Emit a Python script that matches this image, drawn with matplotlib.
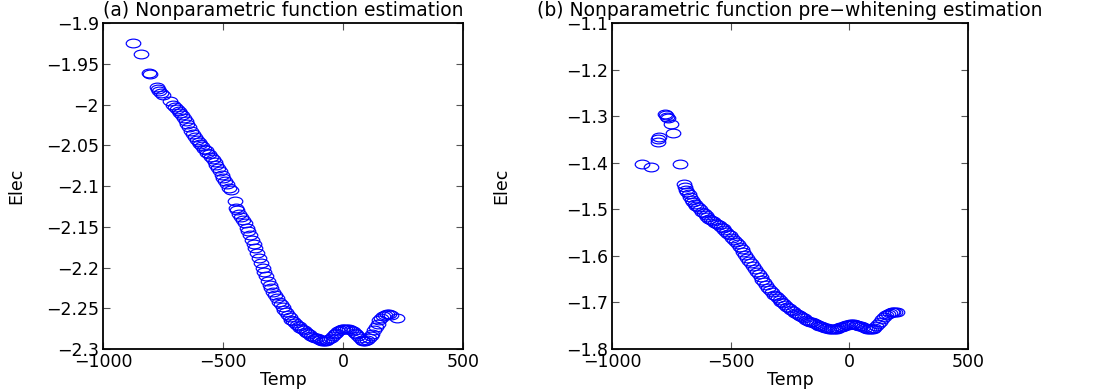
import numpy as np
import matplotlib
matplotlib.use("Agg")
import matplotlib.pyplot as plt
from matplotlib.path import Path
from matplotlib.transforms import Affine2D

# ---------------- data ----------------
temp_a = [-875, -842, -810, -806, -775, -770, -765, -760, -752, -721,
          -708, -700, -692, -685, -678, -670, -662, -655, -648, -640,
          -632, -625, -618, -610, -602, -595, -588, -580, -572, -565,
          -558, -550, -542, -535, -528, -520, -512, -505, -498, -490,
          -482, -475, -468, -452, -445, -440, -432, -425, -418, -410,
          -402, -395, -388, -380, -372, -365, -358, -350, -342, -335,
          -328, -320, -312, -305, -298, -290, -282, -275, -268, -260,
          -252, -245, -238, -230, -222, -215, -208, -200, -192, -185,
          -178, -170, -162, -155, -148, -140, -132, -125, -118, -110,
          -102, -95, -88, -80, -72, -65, -58, -50, -42, -35,
          -28, -20, -12, -5, 2, 10, 18, 25, 32, 40,
          48, 55, 62, 70, 78, 85, 92, 100, 108, 115,
          122, 130, 138, 145, 152, 160, 168, 175, 182, 190,
          198, 225]
elec_a = [-1.925, -1.938, -1.961, -1.963, -1.979, -1.981, -1.983, -1.986, -1.988, -1.996,
          -2.000, -2.003, -2.005, -2.008, -2.010, -2.013, -2.016, -2.020, -2.024, -2.028,
          -2.032, -2.036, -2.040, -2.043, -2.046, -2.049, -2.051, -2.054, -2.056, -2.059,
          -2.061, -2.064, -2.067, -2.070, -2.074, -2.078, -2.082, -2.086, -2.090, -2.094,
          -2.098, -2.102, -2.105, -2.119, -2.127, -2.130, -2.134, -2.138, -2.142, -2.146,
          -2.151, -2.155, -2.160, -2.166, -2.171, -2.176, -2.182, -2.188, -2.194, -2.200,
          -2.206, -2.211, -2.216, -2.221, -2.225, -2.230, -2.234, -2.238, -2.242, -2.245,
          -2.249, -2.252, -2.255, -2.258, -2.261, -2.264, -2.266, -2.268, -2.270, -2.272,
          -2.274, -2.276, -2.277, -2.279, -2.280, -2.282, -2.284, -2.285, -2.286, -2.287,
          -2.288, -2.289, -2.290, -2.290, -2.290, -2.289, -2.288, -2.286, -2.284, -2.282,
          -2.280, -2.278, -2.277, -2.276, -2.275, -2.275, -2.275, -2.276, -2.277, -2.278,
          -2.280, -2.282, -2.284, -2.287, -2.289, -2.290, -2.290, -2.289, -2.287, -2.284,
          -2.281, -2.277, -2.273, -2.269, -2.265, -2.262, -2.260, -2.258, -2.257, -2.257,
          -2.258, -2.262]

temp_b = [-875, -837, -808, -805, -800, -776, -772, -768, -765, -751,
          -742, -713,
          -697, -692, -687, -682, -676, -670, -664, -658, -652, -645,
          -638, -630, -622, -614, -606, -598, -590, -582, -574, -566,
          -558, -550, -542, -534, -526, -518, -510, -502, -494, -486,
          -478, -470, -462, -454, -446, -438, -430, -422, -414, -406,
          -398, -390, -382, -374, -366, -358, -350, -342, -334, -326,
          -318, -310, -302, -294, -286, -278, -270, -262, -254, -246,
          -238, -230, -222, -214, -206, -198, -190, -182, -174, -166,
          -158, -150, -142, -134, -126, -118, -110, -102, -94, -86,
          -78, -70, -62, -54, -46, -38, -30, -22, -14, -6,
          2, 10, 18, 26, 34, 42, 50, 58, 66, 74,
          82, 90, 98, 106, 114, 122, 130, 138, 146, 154,
          162, 170, 178, 186, 194, 202]
elec_b = [-1.403, -1.409, -1.356, -1.349, -1.345, -1.295, -1.298, -1.301, -1.304, -1.317,
          -1.336, -1.403,
          -1.445, -1.452, -1.458, -1.463, -1.468, -1.474, -1.479, -1.484, -1.488, -1.492,
          -1.496, -1.500, -1.505, -1.509, -1.513, -1.517, -1.520, -1.523, -1.526, -1.529,
          -1.531, -1.534, -1.537, -1.541, -1.544, -1.548, -1.552, -1.556, -1.561, -1.566,
          -1.570, -1.575, -1.580, -1.586, -1.592, -1.598, -1.604, -1.610, -1.616, -1.622,
          -1.628, -1.634, -1.640, -1.646, -1.651, -1.657, -1.662, -1.668, -1.673, -1.678,
          -1.683, -1.687, -1.691, -1.695, -1.699, -1.702, -1.706, -1.709, -1.713, -1.716,
          -1.719, -1.722, -1.725, -1.727, -1.730, -1.732, -1.734, -1.737, -1.739, -1.741,
          -1.743, -1.745, -1.747, -1.748, -1.750, -1.751, -1.753, -1.754, -1.755, -1.756,
          -1.757, -1.757, -1.757, -1.756, -1.755, -1.753, -1.752, -1.750, -1.749, -1.748,
          -1.747, -1.747, -1.747, -1.748, -1.749, -1.750, -1.751, -1.753, -1.755, -1.756,
          -1.757, -1.758, -1.757, -1.755, -1.751, -1.746, -1.741, -1.736, -1.731, -1.727,
          -1.724, -1.722, -1.721, -1.720, -1.720, -1.720]

titles = ["(a) Nonparametric function estimation",
          "(b) Nonparametric function pre\u2212whitening estimation"]
xticks = [-1000, -500, 0, 500]
yticks_a = [-2.3, -2.25, -2.2, -2.15, -2.1, -2.05, -2.0, -1.95, -1.9]
yticks_b = [-1.8, -1.7, -1.6, -1.5, -1.4, -1.3, -1.2, -1.1]

# ---------------- style ----------------
plt.rcParams['font.family'] = ['DejaVu Sans']
plt.rcParams['axes.unicode_minus'] = True

ellipse = Path.unit_circle().transformed(Affine2D().scale(1.0, 0.6))

W, H = 1106, 389
fig = plt.figure(figsize=(W / 100, H / 100), dpi=100)

def fmt(v):
    s = ('%g' % v)
    return s.replace('-', '\u2212')

def make_axes(rect, xs, ys, yticks, title, ylab_x):
    ax = fig.add_axes(rect)
    ax.plot(xs, ys, linestyle='none', marker=ellipse, markersize=10.5,
            markerfacecolor='none', markeredgecolor='#0000ff', markeredgewidth=0.85)
    ax.set_xlim(-1000, 500)
    ax.set_ylim(yticks[0], yticks[-1])
    ax.set_xticks(xticks)
    ax.set_xticklabels([fmt(v) for v in xticks])
    ax.set_yticks(yticks)
    ax.set_yticklabels([fmt(v) for v in yticks])
    ax.tick_params(direction='in', length=5, width=0.8, labelsize=12.5,
                   top=True, right=True, color='#555555', pad=3)
    for s in ax.spines.values():
        s.set_linewidth(1.3)
    ax.set_title(title, fontsize=13.5, pad=5)
    ax.set_xlabel('Temp', fontsize=12.5, labelpad=0)
    ax.set_ylabel('Elec', fontsize=12.5)
    ax.yaxis.set_label_coords(ylab_x, 0.5)
    return ax

axa = make_axes([103 / W, 1 - 349 / H, 360 / W, 326 / H], temp_a, elec_a,
                yticks_a, titles[0], (25 - 103) / 360)
axb = make_axes([612 / W, 1 - 349 / H, 356 / W, 326 / H], temp_b, elec_b,
                yticks_b, titles[1], (510 - 612) / 356)

fig.savefig('out.png', dpi=100)
